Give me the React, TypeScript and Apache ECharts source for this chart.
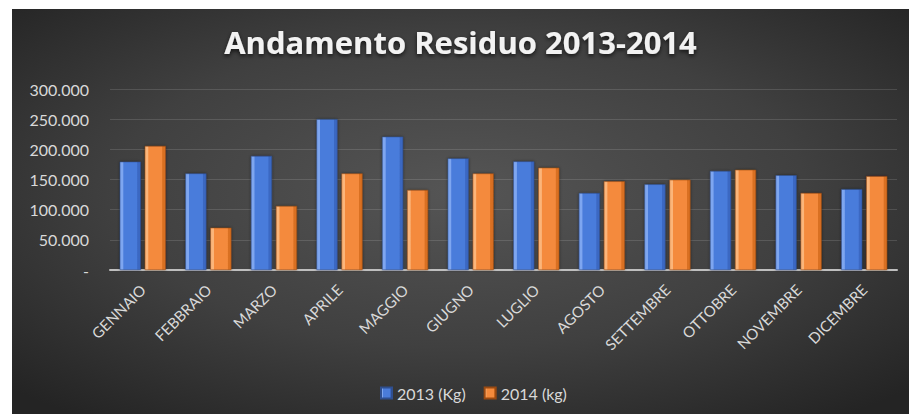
import React, { useEffect, useRef } from "react";
import * as echarts from "echarts";

const categories = ["GENNAIO", "FEBBRAIO", "MARZO", "APRILE", "MAGGIO", "GIUGNO", "LUGLIO", "AGOSTO", "SETTEMBRE", "OTTOBRE", "NOVEMBRE", "DICEMBRE"];
const values2013 = [179500, 160000, 189000, 250000, 221000, 185000, 180000, 127500, 142000, 164000, 157000, 134000];
const values2014 = [205500, 70000, 106000, 160000, 132500, 160000, 169500, 147000, 149500, 166000, 127500, 155500];
const seriesNames = ["2013 (Kg)", "2014 (kg)"];
const yMin = 0;
const yMax = 300000;
const yInterval = 50000;

const fmt = (v: number) => {
  if (v === 0) return "-";
  return String(v).replace(/\B(?=(\d{3})+(?!\d))/g, ".");
};

const bevel = (light: string, mid: string, dark: string) =>
  new echarts.graphic.LinearGradient(0, 0, 1, 0, [
    { offset: 0, color: light },
    { offset: 0.14, color: light },
    { offset: 0.18, color: mid },
    { offset: 0.82, color: mid },
    { offset: 0.86, color: dark },
    { offset: 1, color: dark },
  ]);

export default function App() {
  const ref = useRef<HTMLDivElement>(null);
  useEffect(() => {
    if (!ref.current) return;
    const chart = echarts.init(ref.current, undefined, { renderer: "svg" });
    const font = "Lato, 'Open Sans', sans-serif";
    chart.setOption({
      animation: false,
      backgroundColor: new echarts.graphic.RadialGradient(0.5, 0.45, 0.7, [
        { offset: 0, color: "#555555" },
        { offset: 0.55, color: "#404040" },
        { offset: 1, color: "#242424" },
      ]),
      title: {
        text: "Andamento Residuo 2013-2014",
        left: "center",
        top: 12,
        textStyle: {
          color: "#f2f2f2",
          fontFamily: "'Open Sans', sans-serif",
          fontWeight: "bold",
          fontSize: 31,
          textShadowColor: "rgba(0,0,0,0.7)",
          textShadowBlur: 4,
          textShadowOffsetY: 2,
        },
      },
      legend: {
        left: 363,
        top: 369,
        itemWidth: 11,
        itemHeight: 11,
        itemGap: 18,
        icon: "rect",
        textStyle: { color: "#d9d9d9", fontFamily: font, fontSize: 16, lineHeight: 20 },
        data: seriesNames,
      },
      grid: { left: 98, right: 12, top: 80, bottom: 144, containLabel: false },
      xAxis: {
        type: "category",
        data: categories,
        axisLine: { lineStyle: { color: "#bfbfbf", width: 2 } },
        axisTick: { show: false },
        axisLabel: {
          rotate: 45,
          color: "#d9d9d9",
          fontFamily: font,
          fontSize: 15,
          margin: 17,
          interval: 0,
        },
      },
      yAxis: {
        type: "value",
        min: yMin,
        max: yMax,
        interval: yInterval,
        axisLine: { show: false },
        axisTick: { show: false },
        splitLine: { lineStyle: { color: "rgba(255,255,255,0.13)", width: 1 } },
        axisLabel: {
          color: "#d9d9d9",
          fontFamily: font,
          fontSize: 16,
          margin: 21,
          formatter: (v: number) => fmt(v),
        },
      },
      series: [
        {
          name: seriesNames[0],
          type: "bar",
          data: values2013,
          barWidth: 21,
          barGap: "19%",
          itemStyle: {
            color: bevel("#7ea6f0", "#4a7cdb", "#3a67c2"),
            borderColor: "#2f4f8f",
            borderWidth: 0.5,
            shadowColor: "rgba(0,0,0,0.5)",
            shadowBlur: 3,
          },
        },
        {
          name: seriesNames[1],
          type: "bar",
          data: values2014,
          barWidth: 21,
          itemStyle: {
            color: bevel("#fbb57a", "#f48a3c", "#d96f22"),
            borderColor: "#9a4a12",
            borderWidth: 0.5,
            shadowColor: "rgba(0,0,0,0.5)",
            shadowBlur: 3,
          },
        },
      ],
    });
    return () => chart.dispose();
  }, []);
  return (
    <div
      ref={ref}
      style={{ position: "absolute", left: 12, top: 9, width: 897, height: 405 }}
    />
  );
}
